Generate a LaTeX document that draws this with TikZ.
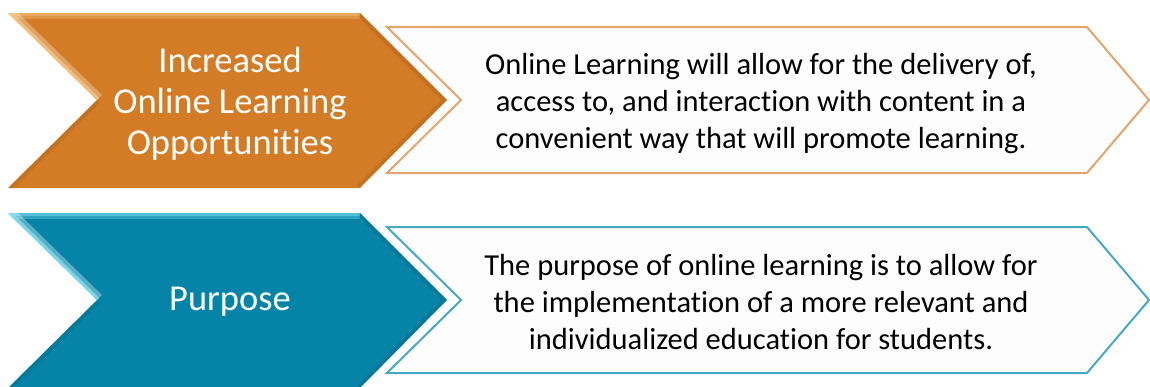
\documentclass[tikz,border=0pt]{standalone}
\usepackage{fontspec}
\setmainfont{Carlito}[Ligatures={NoCommon}]
\definecolor{orng}{HTML}{D47B25}
\definecolor{orngline}{HTML}{E2A66C}
\definecolor{orngHi}{HTML}{F6C77E}
\definecolor{blu}{HTML}{0584A8}
\definecolor{bluline}{HTML}{45A9C4}
\definecolor{bluHi}{HTML}{7FE3F7}
\definecolor{paper}{HTML}{FDFDFD}
\tikzset{
  chevtext/.style={text=white,font=\fontsize{36.5}{41}\selectfont,align=center},
  bodytext/.style={text=black,font=\fontsize{30.5}{37}\selectfont,align=center},
  outline/.style={line width=2pt,fill=paper,line join=miter},
}
\begin{document}
\begin{tikzpicture}[x=1pt,y=-1pt]
\useasboundingbox (0,0) rectangle (1150,386);
% ---------- row 1 ----------
\draw[outline,draw=orngline] (387,27) -- (1087,27) -- (1149,100) -- (1087,173) -- (387,173) -- (461,100) -- cycle;
\fill[orng] (8,13) -- (360,13) -- (447,100) -- (360,188) -- (8,188) -- (97,100) -- cycle;
\begin{scope}
\clip (8,13) -- (360,13) -- (447,100) -- (360,188) -- (8,188) -- (97,100) -- cycle;
\draw[orngHi,line width=12pt,opacity=0.35] (8,13) -- (360,13);
\draw[orngHi,line width=5pt,opacity=0.45] (8,13) -- (360,13);
\draw[white,line width=14pt,opacity=0.3] (8,13) -- (97,100);
\draw[orngHi,line width=6pt,opacity=0.8] (8,13) -- (97,100);
\draw[black,line width=8pt,opacity=0.08] (97,100) -- (8,188);
\draw[black,line width=8pt,opacity=0.08] (360,13) -- (447,100) -- (360,188);
\end{scope}
\node[chevtext] (t1) at (230,104) {Increased\\Online Learning\\Opportunities};
\node[bodytext] (b1) at (761,103.5) {Online Learning will allow for the delivery of,\\access to, and interaction with content in a\\convenient way that will promote learning.};
% ---------- row 2 ----------
\draw[outline,draw=bluline] (387,227) -- (1087,227) -- (1149,300) -- (1087,373) -- (387,373) -- (461,300) -- cycle;
\fill[blu] (8,213) -- (360,213) -- (447,300) -- (360,388) -- (8,388) -- (97,300) -- cycle;
\begin{scope}
\clip (8,213) -- (360,213) -- (447,300) -- (360,388) -- (8,388) -- (97,300) -- cycle;
\draw[bluHi,line width=12pt,opacity=0.35] (8,213) -- (360,213);
\draw[bluHi,line width=5pt,opacity=0.45] (8,213) -- (360,213);
\draw[white,line width=14pt,opacity=0.35] (8,213) -- (97,300);
\draw[bluHi,line width=6pt,opacity=0.8] (8,213) -- (97,300);
\draw[black,line width=8pt,opacity=0.08] (97,300) -- (8,388);
\draw[black,line width=8pt,opacity=0.08] (360,213) -- (447,300) -- (360,388);
\end{scope}
\node[chevtext] (t2) at (230,302) {Purpose};
\node[bodytext] (b2) at (761,302.5) {The purpose of online learning is to allow for\\the implementation of a more relevant and\\individualized education for students.};
\end{tikzpicture}
\end{document}
